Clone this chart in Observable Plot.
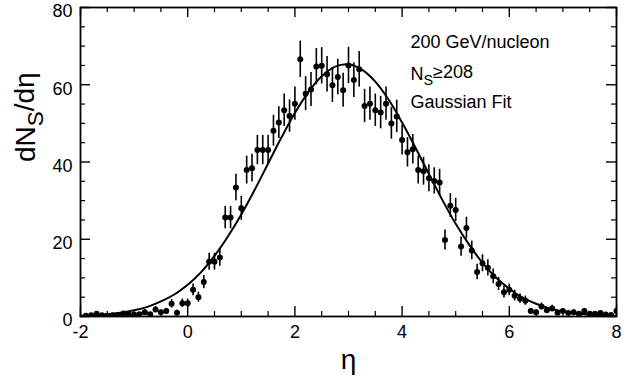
<!DOCTYPE html>
<html><head><meta charset="utf-8">
<script src="https://cdn.jsdelivr.net/npm/d3@7"></script>
<script src="https://cdn.jsdelivr.net/npm/@observablehq/plot@0.6"></script>
<style>body{margin:0;background:#fff;} svg{display:block}</style>
</head><body><div id="chart"></div>
<script>
const eta = [
  -1.9,-1.8,-1.7,-1.6,-1.5,-1.4,-1.3,-1.2,-1.1,-1.0,
  -0.9,-0.8,-0.7,-0.6,-0.5,-0.4,-0.3,-0.2,-0.1,0.0,
  0.1,0.2,0.3,0.4,0.5,0.6,0.7,0.8,0.9,1.0,
  1.1,1.2,1.3,1.4,1.5,1.6,1.7,1.8,1.9,2.0,
  2.1,2.2,2.3,2.4,2.5,2.6,2.7,2.8,2.9,3.0,
  3.1,3.2,3.3,3.4,3.5,3.6,3.7,3.8,3.9,4.0,
  4.1,4.2,4.3,4.4,4.5,4.6,4.7,4.8,4.9,5.0,
  5.1,5.2,5.3,5.4,5.5,5.6,5.7,5.8,5.9,6.0,
  6.1,6.2,6.3,6.4,6.5,6.6,6.7,6.8,6.9,7.0,
  7.1,7.2,7.3,7.4,7.5,7.6,7.7,7.8,7.9,8.0];
const dNdEta = [
  0.2,0.3,0.7,0.3,0.2,0.3,0.4,0.8,0.6,0.5,
  0.6,1.1,0.6,1.8,1.1,1.4,3.3,1.0,3.4,3.4,
  6.9,5.0,8.9,14.2,14.2,15.3,25.6,25.6,33.4,28.0,
  37.9,38.4,43.1,43.1,43.1,48.1,50.2,53.4,51.9,55.1,
  66.6,57.7,58.8,64.7,64.9,62.7,59.9,62.0,58.6,65.0,
  61.2,64.0,54.5,55.1,53.4,52.8,55.1,50.0,51.8,45.7,
  42.5,43.3,37.9,37.6,35.8,35.1,34.7,19.8,28.7,27.6,
  18.1,22.9,17.1,11.5,13.8,12.6,10.4,8.4,6.3,6.9,
  5.4,4.6,4.1,1.4,1.1,2.6,1.6,2.1,1.0,1.4,
  0.9,1.1,0.7,1.4,0.7,0.7,0.9,0.5,0.4,1.4];
const errors = [
  0.3,0.3,0.5,0.3,0.3,0.3,0.4,0.5,0.4,0.4,
  0.4,0.6,0.4,0.8,0.6,0.7,1.1,0.6,1.1,1.1,
  1.5,1.3,1.7,2.2,2.2,2.3,2.9,2.9,3.4,3.1,
  3.6,3.6,3.8,3.8,3.8,4.0,4.1,4.2,4.2,4.3,
  4.7,4.4,4.4,4.7,4.7,4.6,4.5,4.6,4.4,4.7,
  4.5,4.6,4.3,4.3,4.2,4.2,4.3,4.1,4.2,3.9,
  3.8,3.8,3.6,3.6,3.5,3.4,3.4,2.6,3.1,3.0,
  2.5,2.8,2.4,2.0,2.2,2.1,1.9,1.7,1.5,1.5,
  1.4,1.2,1.2,0.7,0.6,0.9,0.7,0.8,0.6,0.7,
  0.6,0.6,0.5,0.7,0.5,0.5,0.6,0.4,0.4,0.7];
const fitEta = [-2,-1.75,-1.5,-1.25,-1,-0.75,-0.5,-0.25,0,0.25,0.5,0.75,1,1.25,1.5,1.75,2,2.25,2.5,2.75,3,3.25,3.5,3.75,4,4.25,4.5,4.75,5,5.25,5.5,5.75,6,6.25,6.5,6.75,7,7.25,7.5,7.75,8];
const fitVal = [0.2,0.3,0.6,1.0,1.6,2.5,3.9,5.7,8.2,11.5,15.7,20.7,26.4,32.8,39.6,46.4,52.7,58.1,62.2,64.7,65.3,63.9,60.8,56.1,50.2,43.7,36.9,30.2,24.0,18.6,13.9,10.1,7.2,4.9,3.3,2.1,1.3,0.8,0.5,0.3,0.15];
const xMajor = [-2,0,2,4,6,8];
const xMinor = [-1.5,-1,-0.5,0.5,1,1.5,2.5,3,3.5,4.5,5,5.5,6.5,7,7.5];
const yMajor = [0,20,40,60,80];
const yMinor = [5,10,15,25,30,35,45,50,55,65,70,75];
const xTickLabels = ["-2","0","2","4","6","8"];
const yTickLabels = ["0","20","40","60","80"];
const notes = ["200 GeV/nucleon","NS≥208","Gaussian Fit"];

const W = 623, H = 389, mT = 7, mB = 73, mL = 80, mR = 7;
const innerH = H - mT - mB, innerW = W - mL - mR;
const pts = eta.map((e, i) => ({eta: e, v: dNdEta[i], err: errors[i]}));
const fit = fitEta.map((e, i) => ({eta: e, v: fitVal[i]}));
const font = "'Liberation Sans', Arial, Helvetica, sans-serif";

const chart = Plot.plot({
  width: W, height: H, marginTop: mT, marginBottom: mB, marginLeft: mL, marginRight: mR,
  x: {domain: [-2, 8], axis: null}, y: {domain: [0, 80], axis: null},
  style: {fontFamily: font, background: "#fff", color: "#000"},
  marks: [
    Plot.tickX(xMajor, {x: d => d, insetTop: innerH - 10, stroke: "#000", strokeWidth: 1.4}),
    Plot.tickX(xMajor, {x: d => d, insetBottom: innerH - 10, stroke: "#000", strokeWidth: 1.4}),
    Plot.tickX(xMinor, {x: d => d, insetTop: innerH - 5, stroke: "#000", strokeWidth: 1.2}),
    Plot.tickX(xMinor, {x: d => d, insetBottom: innerH - 5, stroke: "#000", strokeWidth: 1.2}),
    Plot.tickY(yMajor, {y: d => d, insetRight: innerW - 10, stroke: "#000", strokeWidth: 1.4}),
    Plot.tickY(yMajor, {y: d => d, insetLeft: innerW - 10, stroke: "#000", strokeWidth: 1.4}),
    Plot.tickY(yMinor, {y: d => d, insetRight: innerW - 5, stroke: "#000", strokeWidth: 1.2}),
    Plot.tickY(yMinor, {y: d => d, insetLeft: innerW - 5, stroke: "#000", strokeWidth: 1.2}),
    Plot.text(xMajor, {x: d => d, text: (d, i) => xTickLabels[i], frameAnchor: "bottom", dy: 21, fontSize: 18, fill: "#000"}),
    Plot.text(yMajor, {y: d => d, text: (d, i) => yTickLabels[i], frameAnchor: "left", textAnchor: "end", dx: -8, dy: 4, fontSize: 18, fill: "#000"}),
    Plot.line(fit, {x: "eta", y: "v", curve: "catmull-rom", stroke: "#000", strokeWidth: 2}),
    Plot.ruleX(pts, {x: "eta", y1: d => d.v - d.err, y2: d => d.v + d.err, stroke: "#000", strokeWidth: 1.6, clip: true}),
    Plot.dot(pts, {x: "eta", y: "v", r: 3, fill: "#000", stroke: null, clip: true}),
    Plot.frame({stroke: "#000", strokeWidth: 1.8}),
    Plot.text([notes[0]], {frameAnchor: "top-left", dx: 330, dy: 40, textAnchor: "start", lineAnchor: "bottom", fontSize: 18, fill: "#000"}),
    Plot.text([notes[1]], {frameAnchor: "top-left", dx: 330, dy: 72, textAnchor: "start", lineAnchor: "bottom", fontSize: 18, fill: "#000", className: "nsnote"}),
    Plot.text([notes[2]], {frameAnchor: "top-left", dx: 330, dy: 100, textAnchor: "start", lineAnchor: "bottom", fontSize: 18, fill: "#000"}),
    Plot.text(["η"], {frameAnchor: "bottom", dy: 52, fontSize: 28, fill: "#000"}),
    Plot.text(["dNS/dη"], {frameAnchor: "left", dx: -54, rotate: -90, fontSize: 28, fill: "#000", className: "ylab"})
  ]
});
document.getElementById("chart").appendChild(chart);

const svg = d3.select(chart);
svg.selectAll(".nsnote text").each(function() {
  const t = d3.select(this);
  t.text(null);
  t.append("tspan").text("N");
  t.append("tspan").attr("dy", "0.35em").attr("font-size", "80%").text("S");
  t.append("tspan").attr("dy", "-0.35em").text("≥208");
});
svg.selectAll(".ylab text").each(function() {
  const t = d3.select(this);
  t.text(null);
  t.append("tspan").text("dN");
  t.append("tspan").attr("dy", "0.35em").attr("font-size", "80%").text("S");
  t.append("tspan").attr("dy", "-0.35em").text("/dη");
});
</script>
</body></html>
